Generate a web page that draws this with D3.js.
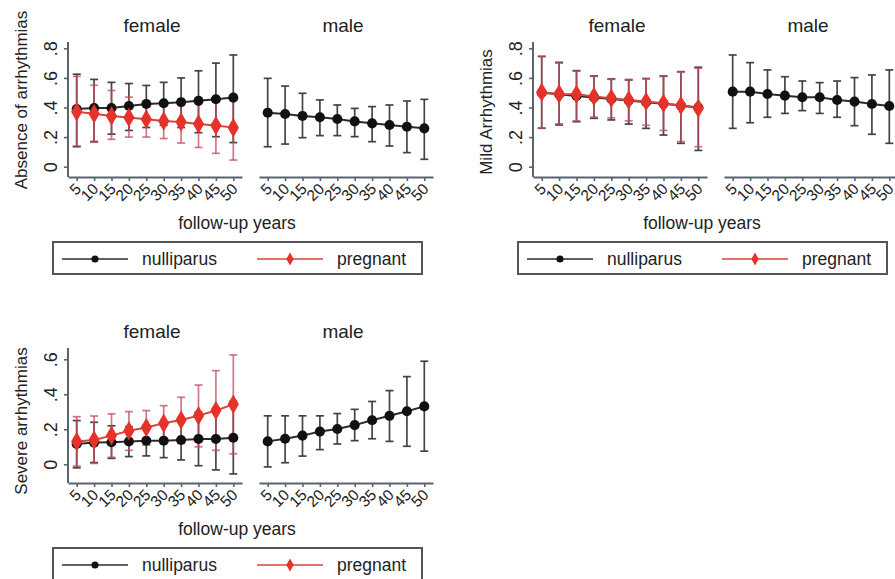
<!DOCTYPE html>
<html>
<head>
<meta charset="utf-8">
<script src="https://cdn.jsdelivr.net/npm/d3@7"></script>
<style>
  body { margin: 0; background: #fff; }
  svg { font-family: "Liberation Sans", Arial, sans-serif; display: block; }
</style>
</head>
<body>
<div id="chart"></div>
<script>
// follow-up years on the x axis
const years = [5, 10, 15, 20, 25, 30, 35, 40, 45, 50];

// each row: [estimate, lower CI, upper CI]
const absenceFemaleNulli = [[0.39,0.135,0.625],[0.397,0.17,0.59],[0.397,0.22,0.57],[0.41,0.245,0.562],[0.424,0.265,0.549],[0.429,0.28,0.57],[0.436,0.265,0.60],[0.445,0.23,0.648],[0.456,0.203,0.70],[0.467,0.163,0.755]];
const absenceFemalePreg  = [[0.372,0.14,0.61],[0.357,0.165,0.55],[0.343,0.185,0.515],[0.332,0.20,0.47],[0.32,0.20,0.445],[0.309,0.19,0.43],[0.302,0.16,0.44],[0.289,0.13,0.45],[0.278,0.09,0.47],[0.264,0.045,0.48]];
const absenceMale        = [[0.365,0.135,0.597],[0.356,0.153,0.545],[0.343,0.196,0.496],[0.334,0.21,0.451],[0.322,0.21,0.417],[0.306,0.203,0.394],[0.293,0.169,0.406],[0.282,0.14,0.417],[0.27,0.095,0.444],[0.259,0.05,0.455]];

const mildFemaleNulli = [[0.50,0.26,0.745],[0.49,0.282,0.705],[0.478,0.304,0.649],[0.468,0.327,0.613],[0.458,0.316,0.593],[0.447,0.288,0.586],[0.436,0.259,0.595],[0.426,0.214,0.613],[0.413,0.158,0.642],[0.40,0.11,0.672]];
const mildFemalePreg  = [[0.503,0.26,0.745],[0.492,0.29,0.70],[0.49,0.31,0.645],[0.474,0.335,0.61],[0.463,0.33,0.59],[0.451,0.31,0.59],[0.44,0.28,0.595],[0.429,0.245,0.61],[0.413,0.17,0.64],[0.395,0.135,0.665]];
const mildMale        = [[0.507,0.259,0.755],[0.507,0.297,0.703],[0.491,0.334,0.654],[0.48,0.36,0.608],[0.469,0.379,0.579],[0.469,0.36,0.568],[0.451,0.334,0.579],[0.44,0.277,0.602],[0.424,0.219,0.62],[0.41,0.158,0.654]];

const severeFemaleNulli = [[0.116,-0.02,0.25],[0.124,0.01,0.24],[0.126,0.034,0.22],[0.13,0.044,0.215],[0.135,0.048,0.222],[0.135,0.038,0.232],[0.139,0.025,0.253],[0.145,-0.008,0.298],[0.145,-0.032,0.322],[0.152,-0.055,0.36]];
const severeFemalePreg  = [[0.13,-0.01,0.272],[0.139,0.005,0.276],[0.164,0.04,0.288],[0.192,0.08,0.301],[0.21,0.11,0.307],[0.234,0.13,0.335],[0.253,0.12,0.383],[0.278,0.10,0.453],[0.307,0.08,0.535],[0.343,0.06,0.625]];
const severeMale        = [[0.131,-0.015,0.277],[0.146,0.009,0.277],[0.164,0.047,0.277],[0.187,0.084,0.277],[0.202,0.116,0.29],[0.224,0.135,0.314],[0.252,0.146,0.359],[0.277,0.131,0.421],[0.303,0.103,0.501],[0.331,0.075,0.589]];

const panelTitles = ["female", "male"];
const legendLabels = ["nulliparus", "pregnant"];
const ticksTo8 = [0, 0.2, 0.4, 0.6, 0.8];
const ticksTo6 = [0, 0.2, 0.4, 0.6];

const BLACK = "#111", BLACK_BAR = "#3b3b3b", BLACK_LINE = "#2b2b2b";
const RED = "#e5322b", RED_BAR = "#c04a5e", RED_LINE = "#d8453a";
const AXIS = "#5a646e";

const svg = d3.select("#chart").append("svg")
    .attr("width", 895)
    .attr("height", 579);

const fmt = d => d === 0 ? "0" : String(d).replace("0.", ".");

function drawBars(g, x, y, rows, barColor, barOpacity) {
    const pts = rows.map((r, i) => ({ year: years[i], est: r[0], lo: r[1], hi: r[2] }));
    const bars = g.append("g")
        .attr("stroke", barColor)
        .attr("stroke-opacity", barOpacity)
        .attr("stroke-width", 1.7)
        .attr("fill", "none");
    bars.selectAll("line.v").data(pts).enter().append("line")
        .attr("x1", d => x(d.year)).attr("x2", d => x(d.year))
        .attr("y1", d => y(d.lo)).attr("y2", d => y(d.hi));
    bars.selectAll("line.lo").data(pts).enter().append("line")
        .attr("x1", d => x(d.year) - 4).attr("x2", d => x(d.year) + 4)
        .attr("y1", d => y(d.lo)).attr("y2", d => y(d.lo));
    bars.selectAll("line.hi").data(pts).enter().append("line")
        .attr("x1", d => x(d.year) - 4).attr("x2", d => x(d.year) + 4)
        .attr("y1", d => y(d.hi)).attr("y2", d => y(d.hi));
    return pts;
}

function drawConnected(g, x, y, pts, lineColor, markColor, symbol, symSize) {
    g.append("path")
        .datum(pts)
        .attr("fill", "none")
        .attr("stroke", lineColor)
        .attr("stroke-width", 2)
        .attr("d", d3.line().x(d => x(d.year)).y(d => y(d.est)));
    g.selectAll(null).data(pts).enter().append("path")
        .attr("transform", d => `translate(${x(d.year)},${y(d.est)})`)
        .attr("d", d3.symbol().type(symbol).size(symSize))
        .attr("fill", markColor);
}

function drawGraph(ox, oy, cfg) {
    const g = svg.append("g").attr("transform", `translate(${ox},${oy})`);
    const top = 42, bottom = 177;

    const y = d3.scaleLinear().domain([0, cfg.ticks[cfg.ticks.length - 1]]).range([cfg.y0, cfg.yTop]);
    const xs = [
        d3.scalePoint().domain(years).range([68, 242]).padding(0.5),
        d3.scalePoint().domain(years).range([259, 433]).padding(0.5)
    ];

    // y axis (only on the left panel)
    const ya = g.append("g")
        .attr("transform", "translate(68,0)")
        .call(d3.axisLeft(y).tickValues(cfg.ticks).tickSize(4).tickFormat(fmt));
    ya.select(".domain").remove();
    ya.selectAll(".tick line").attr("stroke", AXIS).attr("stroke-width", 1.6);
    ya.selectAll(".tick text")
        .attr("x", null).attr("dy", null)
        .attr("text-anchor", "middle")
        .attr("transform", "translate(-11,0) rotate(-90)")
        .attr("font-size", 18)
        .attr("font-family", "Liberation Sans, Arial, sans-serif")
        .attr("fill", "#222");
    g.append("line")
        .attr("x1", 68).attr("x2", 68).attr("y1", top).attr("y2", bottom)
        .attr("stroke", AXIS).attr("stroke-width", 2);

    g.append("text")
        .attr("transform", `translate(27,${cfg.labelY}) rotate(-90)`)
        .attr("text-anchor", "middle")
        .attr("font-size", 17)
        .attr("fill", "#222")
        .text(cfg.ylabel);

    cfg.panels.forEach((p, i) => {
        const x = xs[i];
        const xa = g.append("g")
            .attr("transform", `translate(0,${bottom})`)
            .call(d3.axisBottom(x).tickSize(4).tickSizeOuter(0));
        xa.select(".domain").attr("stroke", AXIS).attr("stroke-width", 2);
        xa.selectAll(".tick line").attr("stroke", AXIS).attr("stroke-width", 1.6);
        xa.selectAll(".tick text")
            .attr("y", null)
            .attr("dy", "0.35em")
            .attr("text-anchor", "end")
            .attr("transform", "translate(1,9) rotate(-45)")
            .attr("font-size", 15.5)
            .attr("font-family", "Liberation Sans, Arial, sans-serif")
            .attr("fill", "#222");

        g.append("text")
            .attr("x", (x.range()[0] + x.range()[1]) / 2 - 3)
            .attr("y", 32)
            .attr("text-anchor", "middle")
            .attr("font-size", 19)
            .attr("fill", "#222")
            .text(panelTitles[i]);

        const blackPts = drawBars(g, x, y, p.nulli, BLACK_BAR, 0.95);
        let redPts = null;
        if (p.preg) redPts = drawBars(g, x, y, p.preg, RED_BAR, 0.75);
        drawConnected(g, x, y, blackPts, BLACK_LINE, BLACK, d3.symbolCircle, 80);
        if (redPts) drawConnected(g, x, y, redPts, RED_LINE, RED, d3.symbolDiamond, 110);
    });

    g.append("text")
        .attr("x", 237)
        .attr("y", 229)
        .attr("text-anchor", "middle")
        .attr("font-size", 17.5)
        .attr("fill", "#222")
        .text("follow-up years");

    // legend
    const lg = g.append("g");
    lg.append("rect")
        .attr("x", 53).attr("y", 242).attr("width", 369).attr("height", 32)
        .attr("fill", "#fff").attr("stroke", "#555").attr("stroke-width", 2);
    const items = [
        { x: 62, color: BLACK_LINE, mark: BLACK, sym: d3.symbolCircle, size: 40 },
        { x: 257, color: RED_LINE, mark: RED, sym: d3.symbolDiamond, size: 48 }
    ];
    items.forEach((it, i) => {
        lg.append("line")
            .attr("x1", it.x).attr("x2", it.x + 66).attr("y1", 259).attr("y2", 259)
            .attr("stroke", it.color).attr("stroke-width", 1.6);
        lg.append("path")
            .attr("transform", `translate(${it.x + 33},259)`)
            .attr("d", d3.symbol().type(it.sym).size(it.size))
            .attr("fill", it.mark);
        lg.append("text")
            .attr("x", it.x + 80).attr("y", 265)
            .attr("font-size", 17.5)
            .attr("fill", "#222")
            .text(legendLabels[i]);
    });
}

drawGraph(0, 0, {
    ylabel: "Absence of arrhythmias", labelY: 100,
    ticks: ticksTo8, y0: 166.7, yTop: 48.3,
    panels: [{ nulli: absenceFemaleNulli, preg: absenceFemalePreg }, { nulli: absenceMale }]
});

drawGraph(465, 0, {
    ylabel: "Mild Arrhythmias", labelY: 112,
    ticks: ticksTo8, y0: 166.7, yTop: 48.3,
    panels: [{ nulli: mildFemaleNulli, preg: mildFemalePreg }, { nulli: mildMale }]
});

drawGraph(0, 306, {
    ylabel: "Severe arrhythmias", labelY: 115,
    ticks: ticksTo6, y0: 158.3, yTop: 53.3,
    panels: [{ nulli: severeFemaleNulli, preg: severeFemalePreg }, { nulli: severeMale }]
});
</script>
</body>
</html>
